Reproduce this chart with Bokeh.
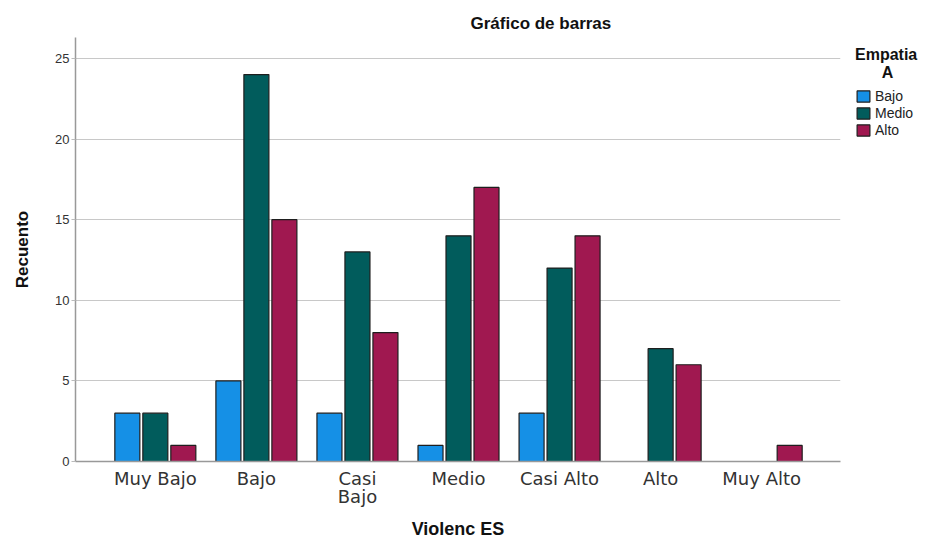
from bokeh.plotting import figure
from bokeh.models import Range1d, Legend, LegendItem, ColumnDataSource, FixedTicker
from bokeh.embed import file_html
from bokeh.resources import INLINE

categories = ["Muy Bajo", "Bajo", "Casi\nBajo", "Medio", "Casi Alto", "Alto", "Muy Alto"]
series_names = ["Bajo", "Medio", "Alto"]
bajo = [3, 5, 3, 1, 3, 0, 0]
medio = [3, 24, 13, 14, 12, 7, 0]
alto = [1, 15, 8, 17, 14, 6, 1]
y_ticks = [0, 5, 10, 15, 20, 25]
colors = ["#1590E6", "#015C5C", "#A01850"]

FL, FT, FW, FH = 75, 37, 765, 424   # frame left/top/width/height in page px

p = figure(width=930, height=539, frame_width=FW, frame_height=FH,
           output_backend="svg", toolbar_location=None,
           x_range=Range1d(-0.79, 6.78), y_range=Range1d(0, 26.3),
           min_border_left=FL, min_border_top=FT, min_border_right=90, min_border_bottom=78,
           title="Gráfico de barras")
p.outline_line_color = None
p.background_fill_color = "white"

p.title.align = "left"
p.title.offset = 395
p.title.text_font = "Liberation Sans"
p.title.text_font_style = "bold"
p.title.text_font_size = "17px"
p.title.text_color = "#111111"
p.title.standoff = 9

offsets = [-0.277, 0.0, 0.277]
renderers = []
for vals, off, col in zip([bajo, medio, alto], offsets, colors):
    xs = [i + off for i, v in enumerate(vals) if v > 0]
    tops = [v for v in vals if v > 0]
    src = ColumnDataSource(dict(x=xs, top=tops))
    r = p.vbar(x="x", top="top", width=0.2475, source=src, fill_color=col,
               line_color="#1e1e1e", line_width=1.2)
    renderers.append(r)

# axes
p.yaxis.ticker = FixedTicker(ticks=y_ticks)
p.yaxis.major_label_text_font = "Liberation Sans"
p.yaxis.major_label_text_font_size = "13px"
p.yaxis.major_label_text_color = "#333333"
p.yaxis.major_label_standoff = 2
p.yaxis.major_tick_out = 4
p.yaxis.major_tick_in = 0
p.yaxis.minor_tick_line_color = None
p.yaxis.axis_line_color = "#999999"
p.yaxis.axis_line_width = 1.5
p.yaxis.major_tick_line_color = "#bbbbbb"
p.yaxis.axis_label = "Recuento"
p.yaxis.axis_label_text_font = "Liberation Sans"
p.yaxis.axis_label_text_font_style = "bold"
p.yaxis.axis_label_text_font_size = "17px"
p.yaxis.axis_label_text_color = "#111111"
p.yaxis.axis_label_standoff = 20

p.xaxis.ticker = FixedTicker(ticks=list(range(len(categories))))
p.xaxis.major_label_overrides = {i: c for i, c in enumerate(categories)}
p.xaxis.major_label_text_font = "DejaVu Sans"
p.xaxis.major_label_text_font_size = "18px"
p.xaxis.major_label_text_line_height = 0.9
p.xaxis.major_label_text_color = "#333333"
p.xaxis.major_tick_line_color = None
p.xaxis.minor_tick_line_color = None
p.xaxis.axis_line_color = "#999999"
p.xaxis.axis_line_width = 1.5
p.xaxis.major_label_standoff = 0
p.xaxis.axis_label = "Violenc ES"
p.xaxis.axis_label_text_font = "Liberation Sans"
p.xaxis.axis_label_text_font_style = "bold"
p.xaxis.axis_label_text_font_size = "18px"
p.xaxis.axis_label_text_color = "#111111"
p.xaxis.axis_label_standoff = 9

p.xgrid.grid_line_color = None
p.ygrid.grid_line_color = "#c8c8c8"
p.ygrid.grid_line_width = 1.2
p.ygrid.ticker = FixedTicker(ticks=y_ticks[1:])

nb = "\u00a0"
legend = Legend(items=[LegendItem(label=n, renderers=[r]) for n, r in zip(series_names, renderers)],
                location=(15, 323), label_text_font="Liberation Sans", label_text_font_size="14px",
                label_text_color="#222222", glyph_width=16, glyph_height=14, spacing=1,
                padding=0, margin=0, label_standoff=4, border_line_color=None,
                background_fill_alpha=0, label_height=14,
                title="Empatia\n" + nb * 6 + "A", title_text_font="Liberation Sans",
                title_text_font_style="bold", title_text_font_size="16px",
                title_text_color="#111111", title_text_line_height=1.0, title_standoff=6)
p.add_layout(legend, "right")

open("out.html", "w").write(file_html(p, INLINE))
